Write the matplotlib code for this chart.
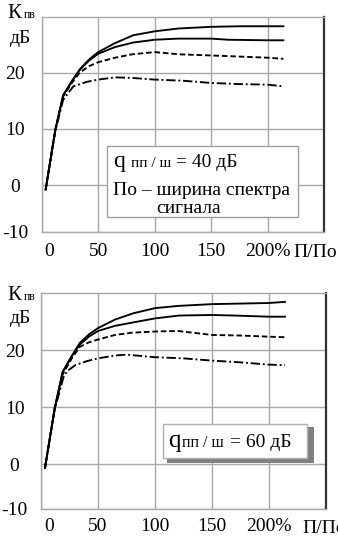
import numpy as np
import matplotlib
matplotlib.use("Agg")
import matplotlib.pyplot as plt
from matplotlib.patches import Rectangle
import matplotlib.transforms as mtransforms

plt.rcParams['font.family'] = ['Liberation Serif', 'DejaVu Serif']

# x tick labels and y tick labels
x_ticks = [0, 50, 100, 150, 200]
x_labels = ['0', '50', '100', '150', '200%']
y_labels = ['-10', '0', '10', '20']

# --- upper chart (q = 40 dB) ---
top_x1 = [3.5, 12, 19, 27, 34, 42, 50, 65, 81, 100, 121, 150, 175, 200, 214]
top_y1 = [-0.8, 9.8, 16.0, 18.6, 20.7, 22.4, 23.7, 25.3, 26.7, 27.4, 27.9, 28.2, 28.3, 28.3, 28.3]
top_x2 = [3.5, 12, 19, 27, 34, 42, 50, 65, 81, 100, 121, 150, 165, 200, 214]
top_y2 = [-0.8, 9.8, 16.0, 18.6, 20.6, 22.2, 23.4, 24.6, 25.4, 25.9, 26.1, 26.1, 25.9, 25.8, 25.8]
top_x3 = [3.5, 12, 19, 27, 34, 42, 50, 65, 80, 100, 122, 150, 175, 200, 214]
top_y3 = [-0.8, 9.8, 15.8, 18.3, 20.1, 21.2, 21.9, 22.7, 23.3, 23.7, 23.3, 23.1, 22.9, 22.7, 22.5]
top_x4 = [3.5, 12, 19, 28, 40, 50, 65, 80, 100, 125, 150, 175, 200, 214]
top_y4 = [-0.8, 9.6, 15.2, 17.6, 18.4, 18.8, 19.2, 19.1, 18.8, 18.6, 18.2, 18.0, 17.9, 17.6]

# --- lower chart (q = 60 dB) ---
bot_x1 = [3.5, 12, 19, 27, 34, 42, 50, 65, 81, 100, 121, 150, 175, 200, 214]
bot_y1 = [-0.6, 9.8, 16.2, 19.0, 21.3, 22.8, 23.9, 25.4, 26.5, 27.4, 27.8, 28.1, 28.2, 28.3, 28.5]
bot_x2 = [3.5, 12, 19, 27, 34, 42, 50, 65, 81, 100, 121, 150, 170, 200, 214]
bot_y2 = [-0.6, 9.8, 16.2, 19.0, 21.0, 22.4, 23.4, 24.3, 24.9, 25.6, 26.1, 26.2, 26.1, 25.9, 25.9]
bot_x3 = [3.5, 12, 19, 27, 34, 42, 50, 65, 80, 100, 120, 150, 175, 200, 214]
bot_y3 = [-0.6, 9.8, 15.8, 18.6, 20.6, 21.4, 21.9, 22.7, 23.1, 23.3, 23.4, 22.7, 22.6, 22.4, 22.3]
bot_x4 = [3.5, 12, 19.6, 22.6, 30, 40, 50, 65, 75, 100, 125, 150, 175, 200, 214]
bot_y4 = [-0.6, 9.6, 15.2, 16.3, 17.4, 18.1, 18.6, 19.1, 19.25, 18.8, 18.6, 18.2, 17.9, 17.5, 17.4]

fig = plt.figure(figsize=(3.38, 5.36), dpi=100)
ax_top = fig.add_axes([0.1234, 0.5677, 0.8352, 0.4011])
ax_bot = fig.add_axes([0.1213, 0.0504, 0.8432, 0.4024])

FS = 14
grid_c = '#a8a8a8'


def style_axes(ax, ybottom, zero_shift, xpad):
    ax.set_xlim(0, 250)
    ax.set_ylim(ybottom, 30)
    ax.set_xticks(x_ticks + [250])
    ax.set_xticklabels(x_labels + [''])
    ax.set_yticks([ybottom, 0, 10, 20])
    ax.set_yticklabels(y_labels)
    ax.grid(True, color=grid_c, lw=1.0)
    ax.set_axisbelow(True)
    ax.tick_params(length=0, labelsize=FS)
    ax.tick_params(axis='y', pad=19)
    ax.tick_params(axis='x', pad=xpad)
    for lab in ax.get_yticklabels():
        lab.set_horizontalalignment('center')
    lab0 = ax.get_xticklabels()[0]
    lab0.set_transform(lab0.get_transform() +
                       mtransforms.ScaledTranslation(zero_shift / 100, 0, fig.dpi_scale_trans))
    for s in ['left', 'top', 'bottom']:
        ax.spines[s].set_color(grid_c)
        ax.spines[s].set_linewidth(1.0)
    ax.spines['right'].set_color('#333333')
    ax.spines['right'].set_linewidth(1.6)


def draw_curves(ax, xs, ys):
    styles = [dict(ls='-'), dict(ls='-'), dict(ls=(0, (3, 1.5))), dict(ls=(0, (5, 1.5, 1, 1.5)))]
    for x, y, st in zip(xs, ys, styles):
        ax.plot(x, y, color='black', lw=1.35, **st)


style_axes(ax_top, -8.3, 7, 8)
style_axes(ax_bot, -7.8, 8, 6.5)
draw_curves(ax_top, [top_x1, top_x2, top_x3, top_x4], [top_y1, top_y2, top_y3, top_y4])
draw_curves(ax_bot, [bot_x1, bot_x2, bot_x3, bot_x4], [bot_y1, bot_y2, bot_y3, bot_y4])

# legend box, upper chart
ax_top.add_patch(Rectangle((0.2324, 0.067), 0.6744, 0.333, transform=ax_top.transAxes,
                           facecolor='white', edgecolor='#a0a0a0', lw=1.0, zorder=5))
ax_top.text(0.2515, 0.300, 'q', fontsize=17, transform=ax_top.transAxes, zorder=6)
ax_top.text(0.3163, 0.300, 'пп / ш', fontsize=11, transform=ax_top.transAxes, zorder=6)
ax_top.text(0.4757, 0.300, '= 40 дБ', fontsize=FS, transform=ax_top.transAxes, zorder=6)
ax_top.text(0.2526, 0.171, 'По – ширина спектра', fontsize=FS, transform=ax_top.transAxes, zorder=6)
ax_top.text(0.5218, 0.087, 'сигнала', fontsize=FS, ha='center', transform=ax_top.transAxes, zorder=6)

# legend box with shadow, lower chart
ax_bot.add_patch(Rectangle((0.442, 0.212), 0.516, 0.168, transform=ax_bot.transAxes,
                           facecolor='#808080', edgecolor='none', zorder=4))
ax_bot.add_patch(Rectangle((0.429, 0.235), 0.503, 0.159, transform=ax_bot.transAxes,
                           facecolor='white', edgecolor='#b0b0b0', lw=1.0, zorder=5))
ax_bot.text(0.4456, 0.289, 'q', fontsize=18, transform=ax_bot.transAxes, zorder=6)
ax_bot.text(0.4947, 0.289, 'пп / ш', fontsize=11.5, transform=ax_bot.transAxes, zorder=6)
ax_bot.text(0.663, 0.289, '= 60 дБ', fontsize=FS, transform=ax_bot.transAxes, zorder=6)

# axis titles
W, H = 338, 536
for (ky, dy) in [(18, 43), (300, 323)]:
    fig.text(7 / W, 1 - ky / H, 'К', fontsize=FS + 1)
    fig.text(24 / W, 1 - ky / H, 'пв', fontsize=8.5)
    fig.text(10 / W, 1 - dy / H, 'дБ', fontsize=FS)
fig.text(293 / W, 1 - 257 / H, 'П/По', fontsize=FS)
fig.text(302 / W, 1 - 533 / H, 'П/По', fontsize=FS)

fig.savefig('out.png', dpi=100)
